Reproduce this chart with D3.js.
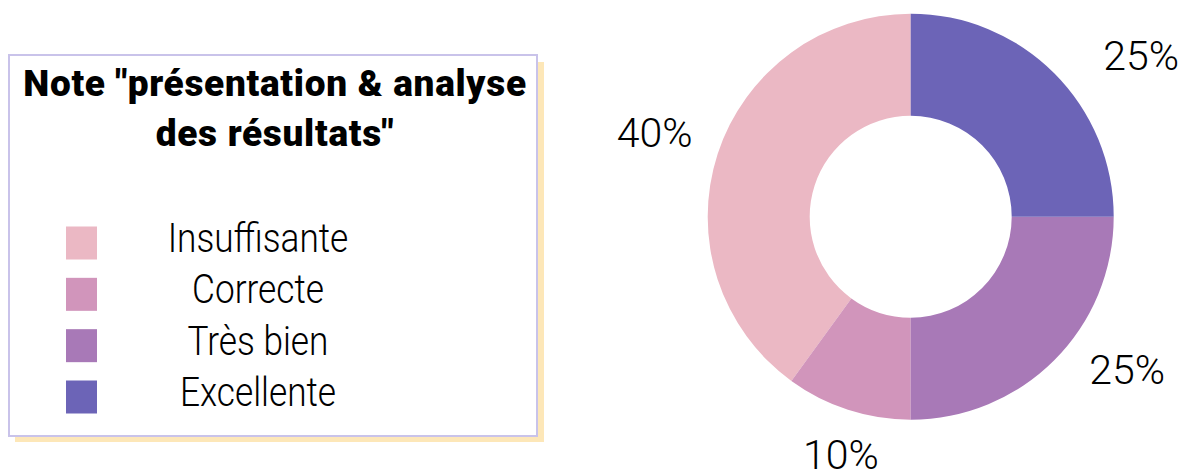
<!DOCTYPE html>
<html>
<head>
<meta charset="utf-8">
<script src="https://cdn.jsdelivr.net/npm/d3@7"></script>
<style>
  body { margin: 0; background: #fff; }
  svg { display: block; }
</style>
</head>
<body>
<svg width="1181" height="472"></svg>
<script>
// legend order (top to bottom)
var categories = ["Insuffisante", "Correcte", "Très bien", "Excellente"];
var values = [40, 10, 25, 25];
var colors = ["#ebb8c4", "#d195bb", "#a879b7", "#6c64b7"];
var titleLines = ["Note \"présentation & analyse", "des résultats\""];

const width = 1181, height = 472;
const cx = 910.7, cy = 216.7;
const outerR = 203, innerR = 101, labelR = 265;
// small hand nudges for the percent labels, same order as categories
const labelNudge = [[-4, -2], [12, -14], [29, -34], [43, 26]];

const svg = d3.select("svg");

var color = d3.scaleOrdinal().domain(categories).range(colors);

// ---- legend box
svg.append("rect")
  .attr("x", 15).attr("y", 62)
  .attr("width", 529).attr("height", 380)
  .attr("fill", "#fde7b8");
svg.append("rect")
  .attr("x", 9).attr("y", 55)
  .attr("width", 528).attr("height", 381)
  .attr("fill", "#fff")
  .attr("stroke", "#c9c3ea")
  .attr("stroke-width", 2);

svg.selectAll("text.title")
  .data(titleLines)
  .enter()
  .append("text")
  .attr("class", "title")
  .attr("x", 275)
  .attr("y", (d, i) => 96 + i * 50)
  .attr("text-anchor", "middle")
  .attr("font-family", "Roboto")
  .attr("font-weight", 900)
  .attr("font-size", 37)
  .attr("letter-spacing", 0.7)
  .attr("fill", "#000")
  .text(d => d);

var ly = d3.scalePoint().domain(categories).range([243, 397]);

var rows = svg.selectAll("g.row")
  .data(categories)
  .enter()
  .append("g")
  .attr("class", "row")
  .attr("transform", d => `translate(0,${ly(d)})`);

rows.append("rect")
  .attr("x", 66).attr("y", -16.5)
  .attr("width", 31).attr("height", 33)
  .attr("fill", d => color(d));

rows.append("text")
  .attr("transform", "translate(258,9) scale(0.88,1)")
  .attr("text-anchor", "middle")
  .attr("font-family", "Roboto")
  .attr("font-weight", 300)
  .attr("font-size", 40)
  .attr("fill", "#000")
  .text(d => d);

// ---- donut
var pie = d3.pie()
  .sort(null)
  .value(d => d.value)
  .startAngle(2 * Math.PI)
  .endAngle(0);

var arcs = pie(categories.map((c, i) => ({ cat: c, value: values[i], idx: i })));

var arc = d3.arc().innerRadius(innerR).outerRadius(outerR);
var labelArc = d3.arc().innerRadius(labelR).outerRadius(labelR);

var g = svg.append("g").attr("transform", `translate(${cx},${cy})`);

g.selectAll("path")
  .data(arcs)
  .enter()
  .append("path")
  .attr("d", arc)
  .attr("fill", d => color(d.data.cat));

var total = d3.sum(values);
g.selectAll("text")
  .data(arcs)
  .enter()
  .append("text")
  .attr("x", d => labelArc.centroid(d)[0] + labelNudge[d.data.idx][0])
  .attr("y", d => labelArc.centroid(d)[1] + labelNudge[d.data.idx][1])
  .attr("dy", "0.35em")
  .attr("text-anchor", "middle")
  .attr("font-family", "Roboto")
  .attr("font-weight", 300)
  .attr("font-size", 41)
  .attr("fill", "#000")
  .text(d => Math.round(d.data.value / total * 100) + "%");
</script>
</body>
</html>
